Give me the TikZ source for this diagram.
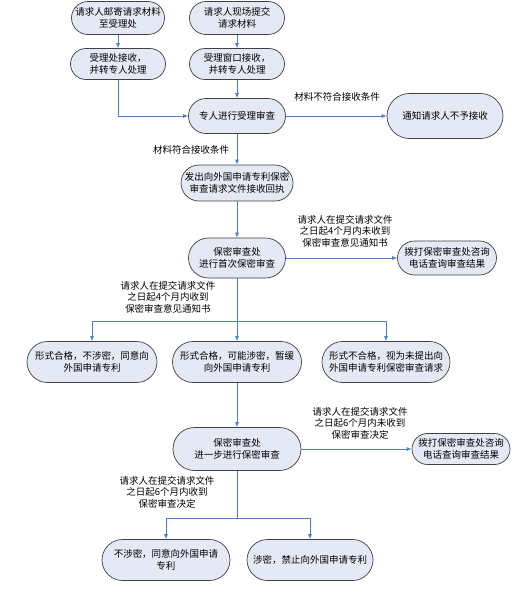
\documentclass[tikz,border=0pt]{standalone}
\usepackage{fontspec}
\setmainfont{Noto Sans CJK SC}
\usetikzlibrary{arrows.meta}

\definecolor{stagefill}{RGB}{228,233,245}
\definecolor{flowblue}{RGB}{79,129,189}

\begin{document}
\begin{tikzpicture}[x=1pt,y=-1pt,
    stage/.style={draw=black!75, fill=stagefill, line width=0.7pt, align=center, inner sep=1pt, font=\fontsize{9.5}{12}\selectfont},
    size/.style 2 args={minimum width=#1pt, minimum height=#2pt, rounded corners=#2pt/2},
    flow/.style={draw=flowblue, line width=0.8pt, -{Latex[length=5pt,width=4pt]}},
    note/.style={align=center, inner sep=0pt, font=\fontsize{9.5}{11.5}\selectfont}]

    % Page
    \fill[white] (0,0) rectangle (525,598);
    \useasboundingbox (0,0) rectangle (525,598);

    % Submission
    \node[stage, size={93}{33}] (mail) at (118,18) {请求人邮寄请求材料\\至受理处};
    \node[stage, size={95}{33}] (onsite) at (237,18) {请求人现场提交\\请求材料};
    \node[stage, size={95}{31}] (recv) at (118,64) {受理处接收，\\并转专人处理};
    \node[stage, size={95}{31}] (window) at (237,64) {受理窗口接收，\\并转专人处理};

    % Acceptance check
    \node[stage, size={97}{35}] (review) at (237,116) {专人进行受理审查};
    \node[stage, size={116}{45}] (reject) at (445,116) {通知请求人不予接收};
    \node[stage, size={112}{36}] (receipt) at (237,183) {发出向外国申请专利保密\\审查请求文件接收回执};

    % First review
    \node[stage, size={97}{40}] (first) at (237,258) {保密审查处\\进行首次保密审查};
    \node[stage, size={99}{34}] (phoneA) at (447,258) {拨打保密审查处咨询\\电话查询审查结果};
    \node[stage, size={130}{41}] (passA) at (92,362) {形式合格，不涉密，同意向\\外国申请专利};
    \node[stage, size={129}{41}] (hold) at (237,362) {形式合格，可能涉密，暂缓\\向外国申请专利};
    \node[stage, size={128}{41}] (fail) at (386,362) {形式不合格，视为未提出向\\外国申请专利保密审查请求};

    % Further review
    \node[stage, size={128}{43}] (further) at (237,449) {保密审查处\\进一步进行保密审查};
    \node[stage, size={98}{31}] (phoneB) at (461,449) {拨打保密审查处咨询\\电话查询审查结果};
    \node[stage, size={128}{41}] (keep) at (166,560) {不涉密，同意向外国申请\\专利};
    \node[stage, size={126}{41}] (ban) at (310,560) {涉密，禁止向外国申请专利};

    \coordinate (splitA) at (237,321);
    \coordinate (splitB) at (237,518);

    % Connectors
    \draw[flow] (mail) -- (recv);
    \draw[flow] (onsite) -- (window);
    \draw[flow] (recv.south) |- (review.west);
    \draw[flow] (window) -- (review);
    \draw[flow] (review) -- (reject);
    \draw[flow] (review) -- (receipt);
    \draw[flow] (receipt) -- (first);
    \draw[flow] (first) -- (phoneA);
    \draw[flow] (first) -- (hold);
    \draw[flow] (splitA) -| (passA.north);
    \draw[flow] (splitA) -| (fail.north);
    \draw[flow] (hold) -- (further);
    \draw[flow] (further) -- (phoneB);
    \draw[flow, -] (further) -- (splitB);
    \draw[flow] (splitB) -| (keep.north);
    \draw[flow] (splitB) -| (ban.north);

    % Conditions
    \node[note] (labNo) at (337,97) {材料不符合接收条件};
    \node[note] (labYes) at (191,150) {材料符合接收条件};
    \node[note] (labLateA) at (345,231) {请求人在提交请求文件\\之日起4个月内未收到\\保密审查意见通知书};
    \node[note] (labGotA) at (168,297) {请求人在提交请求文件\\之日起4个月内收到\\保密审查意见通知书};
    \node[note] (labLateB) at (360,423) {请求人在提交请求文件\\之日起6个月内未收到\\保密审查决定};
    \node[note] (labGotB) at (167,492) {请求人在提交请求文件\\之日起6个月内收到\\保密审查决定};

\end{tikzpicture}
\end{document}
